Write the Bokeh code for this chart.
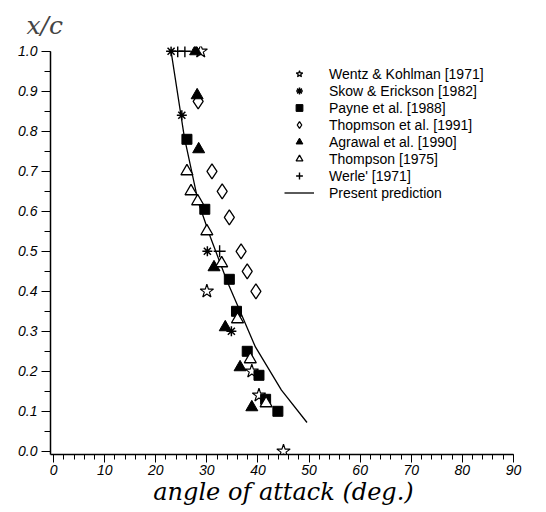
from bokeh.plotting import figure
from bokeh.models import Range1d, FixedTicker, PrintfTickFormatter, Legend, LegendItem
from bokeh.embed import file_html
from bokeh.resources import INLINE

# ---- data (angle of attack [deg], x/c) ----
wentz_x = [28.8, 30.0, 38.8, 40.2, 45.0]
wentz_y = [1.0, 0.40, 0.20, 0.14, 0.0]

skow_x = [23.0, 25.1, 30.1, 34.8]
skow_y = [1.0, 0.84, 0.50, 0.30]

payne_x = [26.1, 29.6, 34.4, 35.8, 37.9, 40.2, 41.5, 43.9]
payne_y = [0.78, 0.605, 0.43, 0.35, 0.25, 0.19, 0.13, 0.10]

thop91_x = [28.3, 31.0, 33.0, 34.4, 36.7, 37.9, 39.6]
thop91_y = [0.875, 0.70, 0.65, 0.585, 0.50, 0.45, 0.40]

agrawal_x = [27.8, 28.1, 28.4, 31.4, 33.6, 36.5, 38.8]
agrawal_y = [1.0, 0.89, 0.755, 0.46, 0.31, 0.21, 0.11]

thomp75_x = [26.1, 26.9, 28.2, 30.0, 32.9, 36.0, 38.5, 41.6]
thomp75_y = [0.70, 0.65, 0.625, 0.55, 0.47, 0.33, 0.23, 0.12]

werle_x = [24.3, 25.7, 32.5]
werle_y = [1.0, 1.0, 0.50]

pred_x = [23.0, 25.6, 28.3, 30.7, 33.9, 36.5, 39.5, 44.6, 49.6]
pred_y = [1.0, 0.785, 0.624, 0.535, 0.427, 0.35, 0.261, 0.153, 0.072]

x_major = [0, 10, 20, 30, 40, 50, 60, 70, 80, 90]
y_major = [0.0, 0.1, 0.2, 0.3, 0.4, 0.5, 0.6, 0.7, 0.8, 0.9, 1.0]

p = figure(frame_width=466, frame_height=408,
           x_range=Range1d(-0.6, 90.6), y_range=Range1d(-0.008, 1.012),
           output_backend="svg", toolbar_location=None,
           min_border_left=50, min_border_right=14, min_border_top=46,
           min_border_bottom=4)
p.grid.visible = False
p.outline_line_color = None
p.background_fill_color = "white"

# title "x/c"
p.title.text = "x/c"
p.title.text_font = "DejaVu Serif"
p.title.text_font_style = "italic"
p.title.text_font_size = "25px"
p.title.align = "left"
p.title.offset = -24
p.title.standoff = 14

# axes
xa = p.xaxis[0]
ya = p.yaxis[0]
xa.ticker = FixedTicker(ticks=x_major, minor_ticks=[2 * i for i in range(46)])
ya.ticker = FixedTicker(ticks=y_major, minor_ticks=[i / 20 for i in range(21)])
ya.formatter = PrintfTickFormatter(format="%.1f")
xa.bounds = (-0.6, 90)
ya.bounds = (-0.008, 1.0)
for ax in (xa, ya):
    ax.axis_line_width = 1.5
    ax.axis_line_color = "black"
    ax.major_tick_in = 0
    ax.minor_tick_in = 0
    ax.major_tick_line_color = "black"
    ax.minor_tick_line_color = "black"
    ax.major_label_text_font = "Liberation Sans"
    ax.major_label_text_font_style = "italic"
    ax.major_label_text_font_size = "14px"
    ax.major_label_text_color = "black"
xa.major_tick_out = 8
xa.minor_tick_out = 5
ya.major_tick_out = 9
ya.minor_tick_out = 6
xa.major_label_standoff = 2
ya.major_label_standoff = 4
xa.axis_label = "angle of attack (deg.)"
xa.axis_label_text_font = "DejaVu Serif"
xa.axis_label_text_font_style = "italic"
xa.axis_label_text_font_size = "24px"
xa.axis_label_text_color = "black"
xa.axis_label_standoff = 0

# glyphs
r_line = p.line(pred_x, pred_y, line_color="black", line_width=1.3)
r_wentz = p.scatter(wentz_x, wentz_y, marker="star", size=14,
                    fill_color="white", line_color="black", line_width=1.2)
r_skow = p.scatter(skow_x, skow_y, marker="asterisk", size=10,
                   line_color="black", line_width=1.5)
r_payne = p.scatter(payne_x, payne_y, marker="square", size=10,
                    fill_color="black", line_color="black")
r_thop = p.scatter(thop91_x, thop91_y, marker="diamond", size=15,
                   fill_color="white", line_color="black", line_width=1.3)
r_agr = p.scatter(agrawal_x, agrawal_y, marker="triangle", size=12,
                  fill_color="black", line_color="black")
r_thomp = p.scatter(thomp75_x, thomp75_y, marker="triangle", size=12,
                    fill_color="white", line_color="black", line_width=1.3)
r_werle = p.scatter(werle_x, werle_y, marker="cross", size=12,
                    line_color="black", line_width=1.4)

legend = Legend(items=[
    LegendItem(label="Wentz & Kohlman [1971]", renderers=[r_wentz]),
    LegendItem(label="Skow & Erickson [1982]", renderers=[r_skow]),
    LegendItem(label="Payne et al. [1988]", renderers=[r_payne]),
    LegendItem(label="Thopmson et al. [1991]", renderers=[r_thop]),
    LegendItem(label="Agrawal et al. [1990]", renderers=[r_agr]),
    LegendItem(label="Thompson [1975]", renderers=[r_thomp]),
    LegendItem(label="Werle' [1971]", renderers=[r_werle]),
    LegendItem(label="Present prediction", renderers=[r_line]),
], location=(234, 253))
legend.border_line_color = None
legend.background_fill_alpha = 0
legend.padding = 0
legend.margin = 0
legend.spacing = 0
legend.glyph_width = 30
legend.glyph_height = 17
legend.label_height = 17
legend.label_standoff = 15
legend.label_text_font = "Liberation Sans"
legend.label_text_font_size = "14px"
legend.label_text_color = "black"
p.add_layout(legend)

open("out.html", "w").write(file_html(p, INLINE))
